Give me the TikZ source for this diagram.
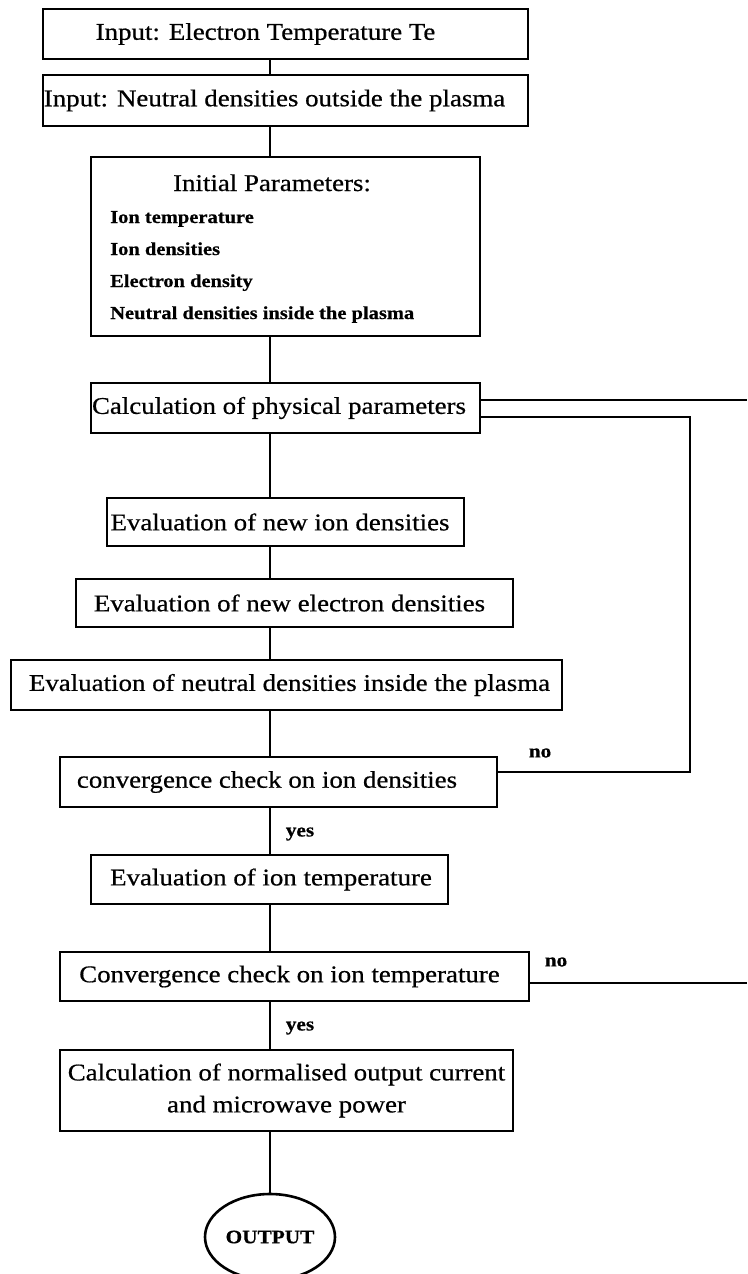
\documentclass[tikz,border=0pt]{standalone}
\usepackage{fontspec}
\setmainfont{Liberation Serif}[FakeStretch=1.12, FakeBold=0.6]
\usetikzlibrary{shapes.geometric,calc}
\begin{document}
\begin{tikzpicture}[x=1pt,y=-1pt,
  box/.style={draw, line width=2.6pt, inner sep=0pt, font=\fontsize{24}{32}\selectfont},
  conn/.style={line width=2.2pt},
  lab/.style={font=\fontsize{19}{22}\selectfont\bfseries, inner sep=0pt},
  itemtxt/.style={font=\fontsize{18.3}{22}\selectfont\bfseries, anchor=base west, inner sep=0pt},
  titletxt/.style={font=\fontsize{24}{28}\selectfont, anchor=base, inner sep=0pt}]
\clip (0,0) rectangle (747,1274);
% boxes
\node[box, minimum width=485pt, minimum height=50pt] (in1) at (285.5,34) {\hspace*{-40pt}Input: Electron Temperature Te};
\node[box, minimum width=485pt, minimum height=51pt] (in2) at (285.5,100.5) {\hspace*{-22pt}Input: Neutral densities outside the plasma};
\node[box, minimum width=389pt, minimum height=179pt] (init) at (285.5,246.5) {};
\node[titletxt] (initT) at (272,191) {Initial Parameters:};
\node[itemtxt] (it1) at (110,223) {Ion temperature};
\node[itemtxt] (it2) at (110,255) {Ion densities};
\node[itemtxt] (it3) at (110,287) {Electron density};
\node[itemtxt] (it4) at (110,319) {Neutral densities inside the plasma};
\node[box, minimum width=389pt, minimum height=50pt] (calc) at (285.5,408) {\hspace*{-13pt}Calculation of physical parameters};
\node[box, minimum width=357pt, minimum height=48pt] (ion) at (285.5,522) {\hspace*{-11pt}Evaluation of new ion densities};
\node[box, minimum width=437pt, minimum height=48pt] (elec) at (294.5,603) {\hspace*{-10pt}Evaluation of new electron densities};
\node[box, minimum width=551pt, minimum height=50pt] (neut) at (286.5,685) {\hspace*{6pt}Evaluation of neutral densities inside the plasma};
\node[box, minimum width=437pt, minimum height=50pt] (conv1) at (278.5,782) {\hspace*{-23pt}convergence check on ion densities};
\node[box, minimum width=357pt, minimum height=49pt] (evalT) at (269.5,879.5) {\hspace*{3pt}Evaluation of ion temperature};
\node[box, minimum width=469pt, minimum height=49pt] (conv2) at (294.5,976.5) {\hspace*{-10pt}Convergence check on ion temperature};
\node[box, minimum width=453pt, minimum height=81pt, align=center] (calcout) at (286.5,1090.5) {Calculation of normalised output current\\and microwave power};
\node[draw, ellipse, line width=2.6pt, minimum width=130pt, minimum height=86pt, inner sep=0pt, font=\fontsize{19}{22}\selectfont\bfseries] (outp) at (270,1237) {OUTPUT};
% labels
\node[lab] (no1) at (540,753) {no};
\node[lab] (no2) at (556,962) {no};
\node[lab] (yes1) at (300,834) {yes};
\node[lab] (yes2) at (300,1028) {yes};
% connectors
\draw[conn] (in1.south -| outp) -- (in2.north -| outp);
\draw[conn] (in2.south -| outp) -- (init.north -| outp);
\draw[conn] (init.south -| outp) -- (calc.north -| outp);
\draw[conn] (calc.south -| outp) -- (ion.north -| outp);
\draw[conn] (ion.south -| outp) -- (elec.north -| outp);
\draw[conn] (elec.south -| outp) -- (neut.north -| outp);
\draw[conn] (neut.south -| outp) -- (conv1.north -| outp);
\draw[conn] (conv1.south -| outp) -- (evalT.north -| outp);
\draw[conn] (evalT.south -| outp) -- (conv2.north -| outp);
\draw[conn] (conv2.south -| outp) -- (calcout.north -| outp);
\draw[conn] (calcout.south -| outp) -- (outp.north);
% loops
\coordinate (r1) at (747,400);
\coordinate (r2) at (747,983);
\coordinate (lp) at (690,0);
\draw[conn] ($(calc.east)+(0,-8)$) -- (r1);
\coordinate (a1) at ($(calc.east)+(0,9)$);
\coordinate (b1) at ($(conv1.east)+(0,-10)$);
\draw[conn] (a1) -- (a1 -| lp) -- (b1 -| lp) -- (b1);
\draw[conn] ($(conv2.east)+(0,6.5)$) -- (r2);
\end{tikzpicture}
\end{document}
